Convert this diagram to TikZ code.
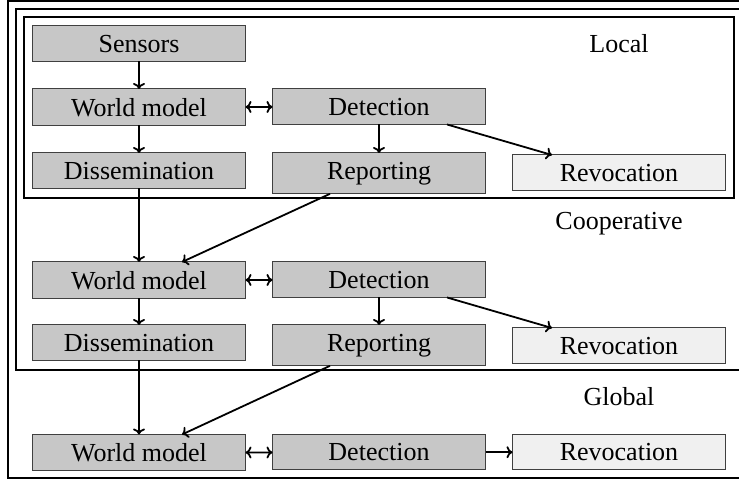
\documentclass[tikz,border=0pt]{standalone}
\usepackage{fontspec}
\setmainfont{Liberation Serif}
\usepackage{tikz,tkz-graph}
\usetikzlibrary{arrows.meta}
\tikzstyle{stageBox}=[shape = rectangle, anchor = north, minimum width = 106.5pt, inner xsep = 0pt, inner ysep = 4.5pt, draw = black!75, line width = 0.5pt, fill = black!22, font = \fontsize{13}{16}\selectfont]
\tikzstyle{revokeBox}=[stageBox, fill = black!6]
\tikzstyle{layerFrame}=[line width = 1pt]
\tikzstyle{layerLabel}=[anchor = base, inner sep = 0pt, font = \fontsize{13}{16}\selectfont]

\begin{document}
\begin{tikzpicture}[x = 0.5pt, y = -0.5pt, >={Computer Modern Rightarrow[length = 3pt, width = 6pt]}]
\tikzstyle{VertexStyle} = []
\tikzstyle{EdgeStyle} = [line width = 0.9pt]
\useasboundingbox (0,0) rectangle (739,480);
\clip (0,0) rectangle (739,480);
\draw[layerFrame] (8,1) rectangle (750,478);
\draw[layerFrame] (16,9) rectangle (742,370);
\draw[layerFrame] (24,17) rectangle (734,198);
\node[layerLabel] (local) at (619,53) {Local};
\node[layerLabel] (coop) at (619,230) {Cooperative};
\node[layerLabel] (global) at (619,406) {Global};
\Vertex[style = stageBox, x = 139, y = 26, L = {Sensors}]{sensA}
\Vertex[style = stageBox, x = 139, y = 89, L = {World model}]{wmA}
\Vertex[style = stageBox, x = 379, y = 89, L = {Detection}]{detA}
\Vertex[style = stageBox, x = 139, y = 153, L = {Dissemination}]{disA}
\Vertex[style = stageBox, x = 379, y = 153, L = {Reporting}]{repA}
\Vertex[style = revokeBox, x = 619, y = 155, L = {Revocation}]{revA}
\Vertex[style = stageBox, x = 139, y = 262, L = {World model}]{wmB}
\Vertex[style = stageBox, x = 379, y = 262, L = {Detection}]{detB}
\Vertex[style = stageBox, x = 139, y = 325, L = {Dissemination}]{disB}
\Vertex[style = stageBox, x = 379, y = 325, L = {Reporting}]{repB}
\Vertex[style = revokeBox, x = 619, y = 328, L = {Revocation}]{revB}
\Vertex[style = stageBox, x = 139, y = 434.5, L = {World model}]{wmC}
\Vertex[style = stageBox, x = 379, y = 434.5, L = {Detection}]{detC}
\Vertex[style = revokeBox, x = 619, y = 434.5, L = {Revocation}]{revC}
\Edge[style = {->}](sensA)(wmA)
\Edge[style = {<->}](wmA)(detA)
\Edge[style = {->}](wmA)(disA)
\Edge[style = {->}](detA)(repA)
\draw[EdgeStyle, ->] ([xshift = 34pt]detA.south) -- ([xshift = -33.5pt]revA.north);
\Edge[style = {->}](disA)(wmB)
\draw[EdgeStyle, ->] ([xshift = -24.5pt]repA.south) -- ([xshift = 21.5pt]wmB.north);
\Edge[style = {<->}](wmB)(detB)
\Edge[style = {->}](wmB)(disB)
\Edge[style = {->}](detB)(repB)
\draw[EdgeStyle, ->] ([xshift = 34pt]detB.south) -- ([xshift = -33.5pt]revB.north);
\Edge[style = {->}](disB)(wmC)
\draw[EdgeStyle, ->] ([xshift = -24.5pt]repB.south) -- ([xshift = 21.5pt]wmC.north);
\Edge[style = {<->}](wmC)(detC)
\Edge[style = {->}](detC)(revC)
\end{tikzpicture}
\end{document}
